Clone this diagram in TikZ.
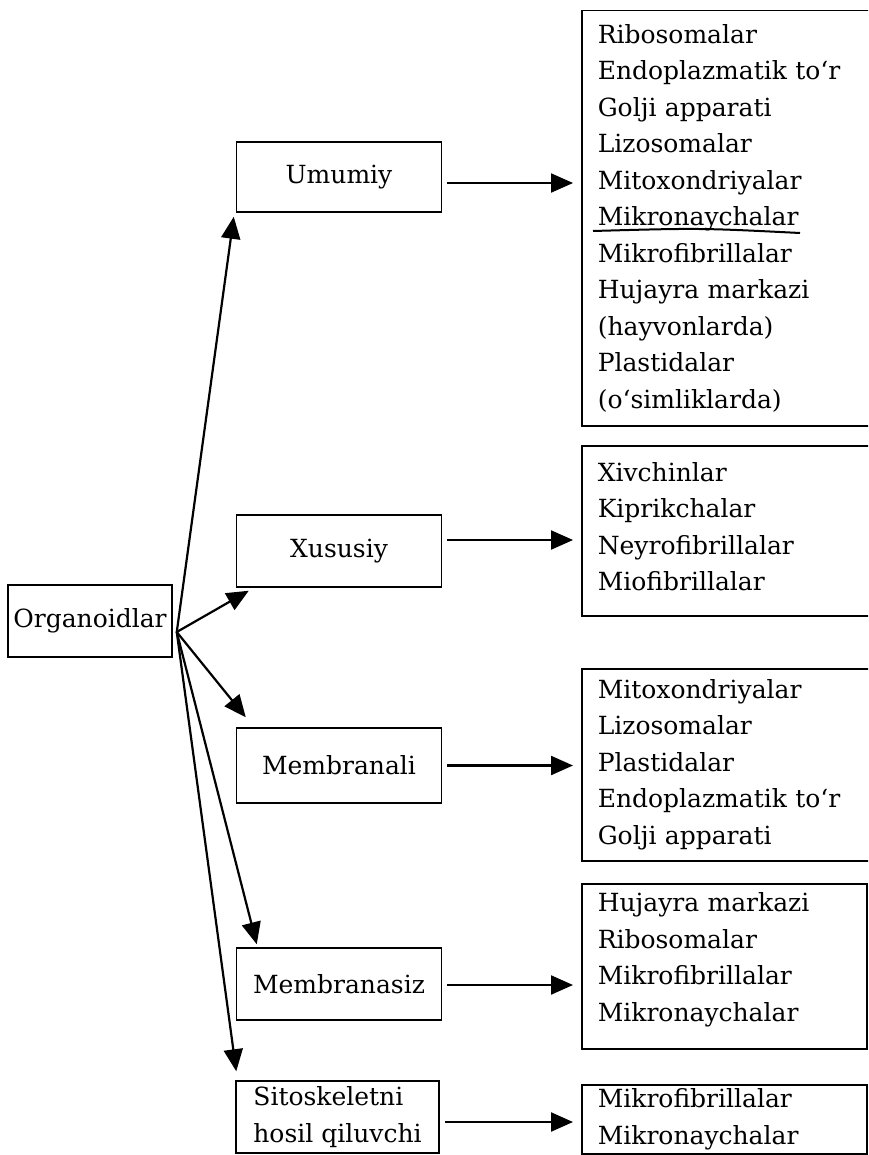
\documentclass[tikz,border=0pt]{standalone}
\usepackage{fontspec}
\setmainfont{DejaVu Serif}
\usetikzlibrary{arrows.meta,calc}

\begin{document}
\begin{tikzpicture}[x=0.5pt,y=-0.5pt,
    font=\fontsize{12.5}{18.25}\selectfont,
    box/.style={draw,line width=0.75pt,inner sep=0pt},
    lst/.style={draw,line width=0.75pt,anchor=north west,align=left,
        inner xsep=8pt,inner ysep=0pt},
    arr/.style={-{Triangle[length=11pt,width=9.5pt]},line width=1.1pt}]
    \clip (0,0) rectangle (868,1155);

    \node[box,minimum width=82pt,minimum height=36pt] (org) at (90,621) {Organoidlar};
    \coordinate (hub) at ($(org.east)+(4,11)$);

    \node[box,minimum width=102.5pt,minimum height=35pt] (umu) at (339,177) {Umumiy};
    \node[box,minimum width=102.5pt,minimum height=36pt] (xus) at (339,551) {Xususiy};
    \node[box,minimum width=102.5pt,minimum height=37.5pt] (mem) at (339,765.5) {Membranali};
    \node[box,minimum width=102.5pt,minimum height=36pt] (msz) at (339,984) {Membranasiz};
    \node[box,minimum width=101.5pt,minimum height=36pt,align=left] (sit) at (337.5,1117)
    {Sitoskeletni\\hosil qiluvchi};

    \node[lst,text width=143.5pt,minimum height=207.5pt] (l1) at (581,10)
    {Ribosomalar\\Endoplazmatik to`r\\Golji apparati\\Lizosomalar\\Mitoxondriyalar\\
     Mikronaychalar\\Mikrofibrillalar\\Hujayra markazi\\(hayvonlarda)\\Plastidalar\\
     (o`simliklarda)};
    \node[lst,text width=143.5pt,minimum height=85pt,text depth=59pt] (l2) at (581,445)
    {Xivchinlar\\Kiprikchalar\\Neyrofibrillalar\\Miofibrillalar};
    \node[lst,text width=143.5pt,minimum height=96pt] (l3) at (581,668)
    {Mitoxondriyalar\\Lizosomalar\\Plastidalar\\Endoplazmatik to`r\\Golji apparati};
    \node[lst,text width=126.5pt,minimum height=82.5pt,text depth=64pt] (l4) at (581,883)
    {Hujayra markazi\\Ribosomalar\\Mikrofibrillalar\\Mikronaychalar};
    \node[lst,text width=126.5pt,minimum height=34.5pt] (l5) at (581,1084)
    {Mikrofibrillalar\\Mikronaychalar};

    % underline in the first list
    \draw[line width=1pt] (593,231) .. controls (700,228) .. (800,233);

    % from the main box
    \draw[arr] (hub) -- ($(umu.south west)+(-2,4)$);
    \draw[arr] (hub) -- ($(xus.south west)+(13,3)$);
    \draw[arr] (hub) -- ($(mem.north west)+(10,-10)$);
    \draw[arr] (hub) -- ($(msz.north west)+(21,-3)$);
    \draw[arr] (hub) -- ($(sit.north west)+(1,-9)$);

    % to the lists
    \draw[arr] ($(umu.east)+(5,6)$) -- ($(umu.east -| l1.west)+(-8,6)$);
    \draw[arr] ($(xus.east)+(5,-11)$) -- ($(xus.east -| l2.west)+(-8,-11)$);
    \draw[arr] ($(mem.east)+(5,0)$) -- ($(mem.east -| l3.west)+(-8,0)$);
    \draw[arr] ($(msz.east)+(5,1)$) -- ($(msz.east -| l4.west)+(-8,1)$);
    \draw[arr] ($(sit.east)+(5,5)$) -- ($(sit.east -| l5.west)+(-8,5)$);
\end{tikzpicture}
\end{document}
